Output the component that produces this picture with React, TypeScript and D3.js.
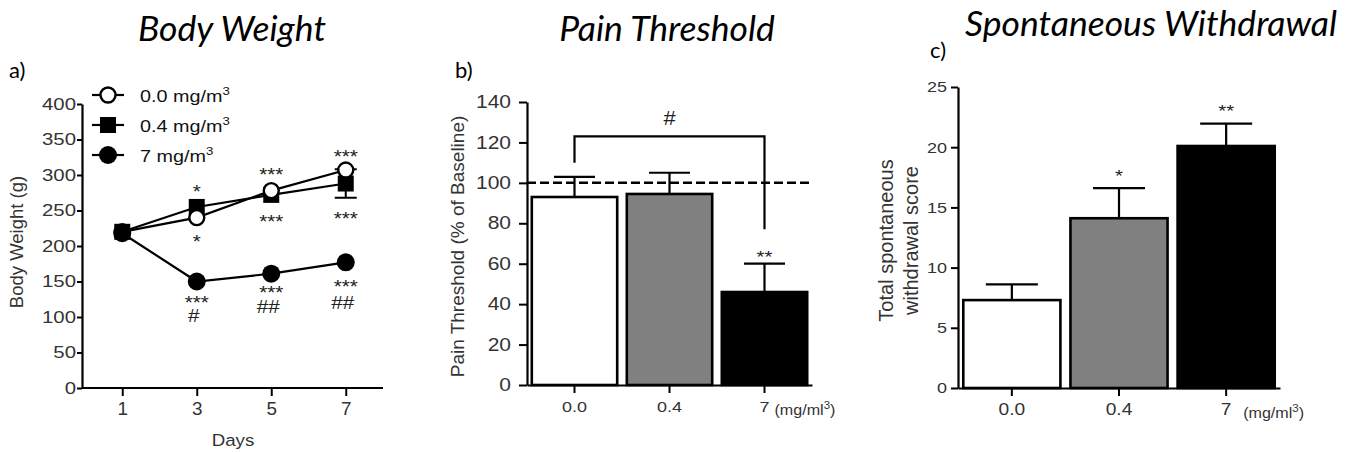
import React, { useEffect, useRef } from "react";
import * as d3 from "d3";

// panel a: body weight over days
const days = [1, 3, 5, 7];
const bw00 = [220, 240, 278, 307];
const bw04 = [220, 255, 272, 288];
const bw7 = [218, 150, 161, 177];
const bw04Err = [0, 0, 0, 20];
const legendLabels = ["0.0 mg/m", "0.4 mg/m", "7 mg/m"];
// single annotations: [day, value position, text]
const bwNotes: [number, number, string][] = [
  [3, 283, "*"],
  [3, 213, "*"],
  [5, 307, "***"],
  [5, 241, "***"],
  [7, 332, "***"],
  [7, 244, "***"],
];
// stacked annotations under the 7 mg/m3 line: [day, value 1, value 2, text 1, text 2]
const bwStacked: [number, number, number, string, string][] = [
  [3, 127, 103, "***", "#"],
  [5, 140, 115, "***", "##"],
  [7, 149, 121, "***", "##"],
];

// panel b: pain threshold
const doses = ["0.0", "0.4", "7"];
const painMean = [93, 94.5, 46];
const painSem = [10, 10.5, 14];

// panel c: spontaneous withdrawal
const wdMean = [7.3, 14.1, 20.1];
const wdSem = [1.3, 2.5, 1.85];

const barFill = ["#ffffff", "#808080", "#000000"];
const SANS = "'Liberation Sans', Arial, sans-serif";
const TITLE = "Lato, 'Open Sans', sans-serif";
const SX = 1.2; // the figure's text is a bit wider than tall

export default function App() {
  const ref = useRef<SVGSVGElement>(null);

  useEffect(() => {
    const svg = d3.select(ref.current);
    svg.selectAll("*").remove();

    // text stretched horizontally around its anchor
    const stext = (g, x, y, t, fs, anchor = "middle", sx = SX) =>
      g
        .append("text")
        .attr("transform", `translate(${x},${y}) scale(${sx},1)`)
        .attr("text-anchor", anchor)
        .attr("font-family", SANS)
        .attr("font-size", fs)
        .attr("fill", "#222")
        .text(t);

    const styleAxis = (g, fs, sx = SX) => {
      g.select(".domain").attr("stroke", "#000").attr("stroke-width", 2.2);
      g.selectAll(".tick line").attr("stroke", "#000").attr("stroke-width", 2);
      g.selectAll(".tick text")
        .attr("font-family", SANS)
        .attr("font-size", fs)
        .attr("fill", "#333")
        .each(function () {
          const x = +(this.getAttribute("x") || 0);
          this.setAttribute("x", String(x / sx));
          this.setAttribute("transform", `scale(${sx},1)`);
        });
    };

    // titles and panel letters
    const titles = [
      ["Body Weight", 232, 41],
      ["Pain Threshold", 667, 41],
      ["Spontaneous Withdrawal", 1151, 36],
    ];
    titles.forEach(([t, x, y]) =>
      svg
        .append("text")
        .attr("x", x)
        .attr("y", y)
        .attr("text-anchor", "middle")
        .attr("font-family", TITLE)
        .attr("font-style", "italic")
        .attr("font-size", 35.5)
        .text(t as string)
    );
    [
      ["a)", 9, 78],
      ["b)", 455, 78],
      ["c)", 930, 58],
    ].forEach(([t, x, y]) =>
      svg
        .append("text")
        .attr("x", x)
        .attr("y", y)
        .attr("font-family", TITLE)
        .attr("font-size", 22)
        .text(t as string)
    );

    // ---------- panel a ----------
    const xA = d3.scaleLinear().domain([0, 8]).range([85, 383]);
    const yA = d3.scaleLinear().domain([0, 400]).range([388, 104]);
    const gA = svg.append("g");
    gA.append("g")
      .attr("transform", "translate(82,0)")
      .call(d3.axisLeft(yA).tickValues(d3.range(0, 401, 50)).tickSize(5).tickSizeOuter(0).tickPadding(1))
      .call((g) => styleAxis(g, 17));
    gA.append("g")
      .attr("transform", "translate(0,388)")
      .call(d3.axisBottom(xA).tickValues(days).tickSize(8).tickSizeOuter(0).tickPadding(6))
      .call((g) => {
        styleAxis(g, 18, 1.05);
        g.select(".domain").attr("d", "M82,0H383");
      });
    gA.append("text")
      .attr("transform", "translate(23,242) rotate(-90)")
      .attr("text-anchor", "middle")
      .attr("font-family", SANS)
      .attr("font-size", 18.5)
      .attr("fill", "#333")
      .text("Body Weight (g)");
    stext(gA, 233, 446, "Days", 17, "middle", 1.1).attr("fill", "#333");

    const line = d3
      .line<number>()
      .x((_, i) => xA(days[i]))
      .y((d) => yA(d));
    // error bars for 0.4
    bw04.forEach((v, i) => {
      if (!bw04Err[i]) return;
      const x = xA(days[i]);
      gA.append("path")
        .attr(
          "d",
          `M${x},${yA(v + bw04Err[i])}V${yA(v - bw04Err[i])}M${x - 11},${yA(v - bw04Err[i])}H${x + 11}M${x - 11},${yA(v + bw04Err[i])}H${x + 11}`
        )
        .attr("stroke", "#000")
        .attr("stroke-width", 2);
    });
    const series = [
      { vals: bw04, shape: "square", fill: "#000" },
      { vals: bw00, shape: "circle", fill: "#fff" },
      { vals: bw7, shape: "circle", fill: "#000" },
    ];
    series.forEach((s) => {
      gA.append("path").attr("d", line(s.vals)).attr("fill", "none").attr("stroke", "#000").attr("stroke-width", 2.2);
    });
    const marker = (g, shape, fill, x, y) => {
      if (shape === "square")
        g.append("rect")
          .attr("x", x - 8)
          .attr("y", y - 8)
          .attr("width", 16)
          .attr("height", 16)
          .attr("fill", fill);
      else
        g.append("circle")
          .attr("cx", x)
          .attr("cy", y)
          .attr("r", fill === "#fff" ? 7.5 : 9)
          .attr("fill", fill)
          .attr("stroke", "#000")
          .attr("stroke-width", fill === "#fff" ? 2.4 : 0);
    };
    series.forEach((s) => s.vals.forEach((v, i) => marker(gA, s.shape, s.fill, xA(days[i]), yA(v))));

    const NFS = 18.5;
    bwNotes.forEach(([d, v, t]) => {
      stext(gA, xA(d), yA(v) + 0.58 * NFS, t, NFS, "middle", 1.12);
    });
    bwStacked.forEach(([d, v1, v2, t1, t2]) => {
      const y1 = yA(v1) + 0.58 * NFS;
      const y2 = yA(v2) + 0.36 * NFS;
      const t = stext(gA, xA(d), y1, "", NFS, "middle", 1.12);
      t.append("tspan").attr("x", 0).attr("dy", 0).text(t1);
      t.append("tspan").attr("x", -3 / 1.12).attr("dy", y2 - y1).text(t2);
    });

    // legend
    const legendOrder = [
      { shape: "circle", fill: "#fff" },
      { shape: "square", fill: "#000" },
      { shape: "circle", fill: "#000" },
    ];
    legendOrder.forEach((s, i) => {
      const y = 95 + i * 30;
      gA.append("line").attr("x1", 92).attr("x2", 124).attr("y1", y).attr("y2", y).attr("stroke", "#000").attr("stroke-width", 2.2);
      marker(gA, s.shape, s.fill, 108, y);
      const t = stext(gA, 140, y + 7, legendLabels[i], 16.5, "start").attr("fill", "#111");
      t.append("tspan").attr("dy", -7).attr("font-size", 11).text("3");
    });

    // ---------- bar panels ----------
    const barPanel = ({ x0, x1, yScale, ticks, means, sems, capW, label, labelX, labelFs, unitDx, pi, yFs, xFs, tick, pad }) => {
      const g = svg.append("g");
      const x = d3.scaleBand().domain(doses).range([x0, x1]).paddingInner(pi).paddingOuter(0.04);
      const y0 = yScale.range()[0];
      means.forEach((m, i) => {
        const cx = x(doses[i]) + x.bandwidth() / 2;
        g.append("path")
          .attr("d", `M${cx},${yScale(m)}V${yScale(m + sems[i])}M${cx - capW / 2},${yScale(m + sems[i])}H${cx + capW / 2}`)
          .attr("stroke", "#000")
          .attr("stroke-width", 2.2);
        g.append("rect")
          .attr("x", x(doses[i]) + 1)
          .attr("y", yScale(m))
          .attr("width", x.bandwidth() - 2)
          .attr("height", y0 - yScale(m))
          .attr("fill", barFill[i])
          .attr("stroke", "#000")
          .attr("stroke-width", 2.6);
      });
      g.append("g")
        .attr("transform", `translate(${x0},0)`)
        .call(d3.axisLeft(yScale).tickValues(ticks).tickSize(tick).tickSizeOuter(0).tickPadding(pad))
        .call((a) => styleAxis(a, yFs));
      g.append("g")
        .attr("transform", `translate(0,${y0})`)
        .call(d3.axisBottom(x).tickSize(8).tickSizeOuter(0).tickPadding(8))
        .call((a) => styleAxis(a, xFs));
      const last = x("7") + x.bandwidth() / 2;
      const u = stext(g, last + unitDx, y0 + 30, "(mg/ml", 14, "start", 1.15).attr("fill", "#333");
      u.append("tspan").attr("dy", -6).attr("font-size", 10).text("3");
      u.append("tspan").attr("dy", 6).text(")");
      const lab = g
        .append("text")
        .attr("transform", `translate(${labelX},${(yScale.range()[0] + yScale.range()[1]) / 2 + 3}) rotate(-90)`)
        .attr("text-anchor", "middle")
        .attr("font-family", SANS)
        .attr("font-size", labelFs)
        .attr("fill", "#333");
      label.forEach((l, i) =>
        lab
          .append("tspan")
          .attr("x", 0)
          .attr("dy", i === 0 ? (label.length > 1 ? -5 : 6) : 25)
          .text(l)
      );
      return { g, x };
    };

    // panel b
    const yB = d3.scaleLinear().domain([0, 140]).range([385, 102]);
    const b = barPanel({
      x0: 527,
      x1: 812,
      yScale: yB,
      ticks: d3.range(0, 141, 20),
      means: painMean,
      sems: painSem,
      capW: 41,
      label: ["Pain Threshold (% of Baseline)"],
      labelX: 458,
      labelFs: 19,
      unitDx: 10,
      pi: 0.08,
      yFs: 17.5,
      xFs: 15,
      tick: 8,
      pad: 8,
    });
    b.g.append("line")
      .attr("x1", 527)
      .attr("x2", 812)
      .attr("y1", yB(100))
      .attr("y2", yB(100))
      .attr("stroke", "#000")
      .attr("stroke-width", 2.5)
      .attr("stroke-dasharray", "9 4");
    const c0 = b.x("0.0") + b.x.bandwidth() / 2;
    const c2 = b.x("7") + b.x.bandwidth() / 2;
    b.g.append("path")
      .attr("d", `M${c0},${yB(110)}V${yB(123)}H${c2}V${yB(77)}`)
      .attr("fill", "none")
      .attr("stroke", "#000")
      .attr("stroke-width", 2.2);
    stext(b.g, (c0 + c2) / 2, yB(132) + 7, "#", 20, "middle", 1.1);
    stext(b.g, c2, yB(painMean[2] + painSem[2] + 5.5) + 10, "**", 17);

    // panel c
    const yC = d3.scaleLinear().domain([0, 25]).range([388, 87]);
    const c = barPanel({
      x0: 958,
      x1: 1280,
      yScale: yC,
      ticks: d3.range(0, 26, 5),
      means: wdMean,
      sems: wdSem,
      capW: 52,
      label: ["Total spontaneous", "withdrawal score"],
      labelX: 898,
      labelFs: 20,
      unitDx: 17,
      pi: 0.075,
      yFs: 15,
      xFs: 16,
      tick: 7,
      pad: 4,
    });
    ["", "*", "**"].forEach((t, i) => {
      if (!t) return;
      stext(c.g, c.x(doses[i]) + c.x.bandwidth() / 2, yC(wdMean[i] + wdSem[i] + 1.35) + 10, t, 17);
    });
  }, []);

  return (
    <svg
      ref={ref}
      width={1353}
      height={452}
      style={{ position: "absolute", left: 0, top: 0, background: "#fff" }}
    />
  );
}
